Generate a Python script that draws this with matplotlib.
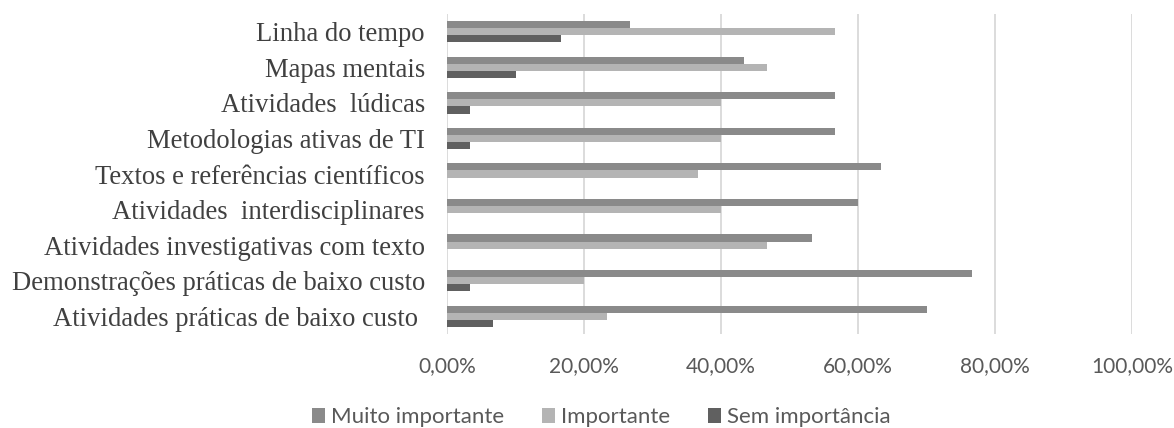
#! /usr/bin/python3

import matplotlib
matplotlib.use("Agg")
import matplotlib.pyplot as plt
import numpy as np
from matplotlib.ticker import FuncFormatter


categorias = [
	"Linha do tempo",
	"Mapas mentais",
	"Atividades  lúdicas",
	"Metodologias ativas de TI",
	"Textos e referências científicos",
	"Atividades  interdisciplinares",
	"Atividades investigativas com texto",
	"Demonstrações práticas de baixo custo",
	"Atividades práticas de baixo custo ",
]

muito_importante = [26.67, 43.33, 56.67, 56.67, 63.33, 60.00, 53.33, 76.67, 70.00]
importante = [56.67, 46.67, 40.00, 40.00, 36.67, 40.00, 46.67, 20.00, 23.33]
sem_importancia = [16.67, 10.00, 3.33, 3.33, 0.0, 0.0, 0.0, 3.33, 6.67]

series = [
	("Muito importante", muito_importante, "#8a8a8a"),
	("Importante", importante, "#b4b4b4"),
	("Sem importância", sem_importancia, "#606060"),
]

sans = ["Lato", "Open Sans", "DejaVu Sans"]
serif = ["Liberation Serif", "DejaVu Serif"]


fig = plt.figure(figsize=(11.74, 4.28), dpi=100)
ax = fig.add_axes([447/1174, 1-334/428, 685/1174, 320/428])

y = np.arange(len(categorias))
h = 0.2
for i, (nome, vals, cor) in enumerate(series):
	ax.barh(y + (i-1)*h, np.array(vals)/100, height=h, color=cor,
		linewidth=0, label=nome, zorder=3)

ax.set_ylim(len(categorias)-0.5, -0.5)
ax.set_xlim(0, 1.0)
ax.set_xticks(np.arange(0, 1.01, 0.2))
ax.xaxis.set_major_formatter(FuncFormatter(lambda v, p: ("%.2f%%" % (v*100)).replace(".", ",")))
ax.grid(axis="x", color="#d9d9d9", linewidth=1.3, zorder=0)
ax.tick_params(axis="x", length=0, pad=16, labelsize=15, labelcolor="#595959")
for t in ax.get_xticklabels():
	t.set_family(sans)

ax.set_yticks(y)
ax.set_yticklabels(categorias, family=serif, fontsize=19.2, color="#404040")
ax.tick_params(axis="y", length=0, pad=16)

for s in ax.spines.values():
	s.set_visible(False)

fig.legend(loc="center", bbox_to_anchor=(0.512, 0.025), ncol=3, frameon=False,
	prop={"family": sans, "size": 16}, labelcolor="#595959",
	handlelength=0.6, handleheight=0.6, handletextpad=0.25, columnspacing=1.7)

fig.savefig("out.png", dpi=100)
